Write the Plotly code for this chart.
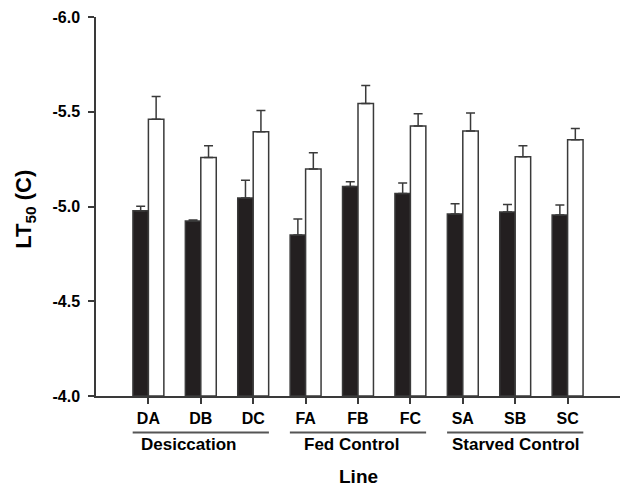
import plotly.graph_objects as go

lines = ["DA", "DB", "DC", "FA", "FB", "FC", "SA", "SB", "SC"]
groups = ["Desiccation", "Fed Control", "Starved Control"]
group_members = [["DA", "DB", "DC"], ["FA", "FB", "FC"], ["SA", "SB", "SC"]]
group_label_pos = [0.77, 3.87, 7.02]

black_vals = [-4.978, -4.923, -5.045, -4.849, -5.105, -5.068, -4.960, -4.971, -4.955]
black_errs = [0.023, 0.006, 0.093, 0.085, 0.026, 0.056, 0.055, 0.039, 0.053]
white_vals = [-5.461, -5.258, -5.395, -5.198, -5.543, -5.425, -5.399, -5.262, -5.352]
white_errs = [0.119, 0.062, 0.111, 0.086, 0.095, 0.064, 0.095, 0.059, 0.059]

base = -4.0
y_ticks = [-6.0, -5.5, -5.0, -4.5, -4.0]
y_ticktext = ["-6.0", "-5.5", "-5.0", "-4.5", "-4.0"]

xpos = list(range(len(lines)))
axis_color = "#3a3a3a"

fig = go.Figure()
for vals, errs, fill in [(black_vals, black_errs, "#231f20"), (white_vals, white_errs, "white")]:
    fig.add_trace(go.Bar(
        x=xpos,
        y=[v - base for v in vals],
        base=base,
        marker=dict(color=fill, line=dict(color=axis_color, width=1.5)),
        error_y=dict(type="data", symmetric=False, array=[0] * len(errs),
                     arrayminus=errs, color=axis_color, thickness=1.5, width=4.5),
        showlegend=False,
    ))

# group underlines and labels
half = 0.3
for name, members, lp in zip(groups, group_members, group_label_pos):
    i0 = lines.index(members[0])
    i1 = lines.index(members[-1])
    fig.add_shape(type="line", xref="x", yref="paper",
                  x0=i0 - half, x1=i1 + half, y0=-0.096, y1=-0.096,
                  line=dict(color="#555555", width=2))
    fig.add_annotation(text=name, xref="x", yref="paper", x=lp, y=-0.127,
                       showarrow=False, font=dict(size=17, color="black"),
                       xanchor="center", yanchor="middle")

fig.add_annotation(text="Line", xref="paper", yref="paper", x=0.5, y=-0.212,
                   showarrow=False, font=dict(size=19, color="black"),
                   xanchor="center", yanchor="middle")
fig.add_annotation(text="LT<sub>50</sub> (C)", xref="paper", yref="paper",
                   x=-0.1355, y=0.494, textangle=-90, showarrow=False,
                   font=dict(size=22, color="black"),
                   xanchor="center", yanchor="middle")

fig.update_layout(
    width=621, height=486,
    margin=dict(l=96, r=1, t=17, b=90, autoexpand=False),
    paper_bgcolor="white", plot_bgcolor="white",
    barmode="group", bargap=0.41, bargroupgap=0,
    font=dict(family="Liberation Sans, Arial, sans-serif", size=16, color="black", weight="bold"),
    xaxis=dict(
        tickmode="array", tickvals=xpos, ticktext=lines,
        range=[-1.0, 9.0], showgrid=False, zeroline=False, automargin=False,
        showline=True, linecolor=axis_color, linewidth=1.5,
        ticks="outside", ticklen=6, tickcolor=axis_color, tickwidth=1.5,
        tickfont=dict(size=16), ticklabelstandoff=1,
    ),
    yaxis=dict(
        range=[-4.0, -6.0], tickmode="array", tickvals=y_ticks, ticktext=y_ticktext,
        showgrid=False, zeroline=False, automargin=False,
        showline=True, linecolor=axis_color, linewidth=1.5,
        ticks="outside", ticklen=6, tickcolor=axis_color, tickwidth=1.5,
        tickfont=dict(size=16), ticklabelstandoff=5,
    ),
)

fig.write_html("out.html", config={"displayModeBar": False},
               post_script="document.body.style.margin='0';document.body.style.overflow='hidden';")
